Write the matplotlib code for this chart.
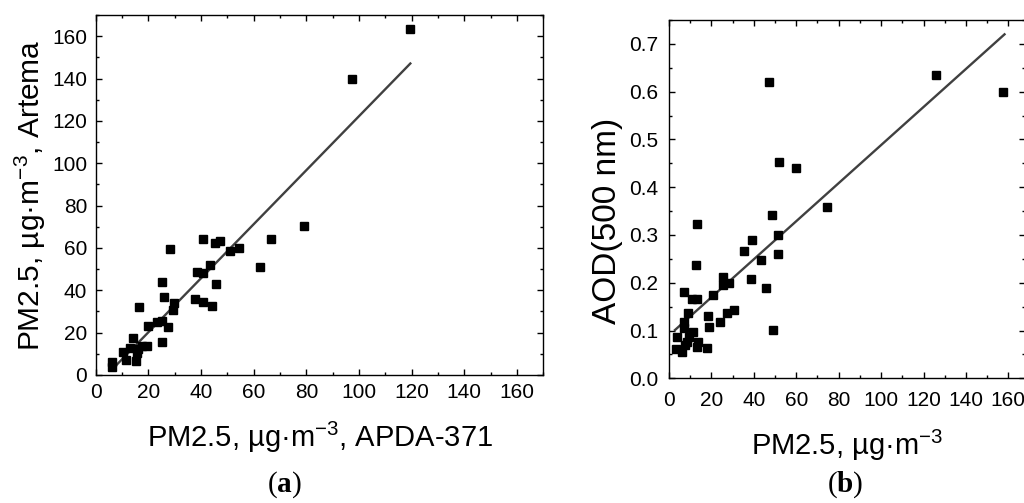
import matplotlib
matplotlib.use("Agg")
import matplotlib.pyplot as plt
from matplotlib.ticker import MultipleLocator, FormatStrFormatter

plt.rcParams["font.family"] = ["Liberation Sans", "DejaVu Sans"]
plt.rcParams["mathtext.fontset"] = "custom"
plt.rcParams["mathtext.rm"] = "Liberation Sans"
plt.rcParams["mathtext.it"] = "Liberation Sans:italic"
plt.rcParams["mathtext.bf"] = "Liberation Serif:bold"

# ------------------------------------------------------------
# (a) APDA-371 vs Artema

apda_x = [119.3, 97.5, 79.2, 66.4, 62.5, 54.4, 51.0, 47.3, 45.5, 40.7,
          43.3, 38.3, 40.6, 45.8, 37.7, 40.6, 44.0, 28.2, 25.3, 26.1,
          29.9, 29.5, 16.4, 23.1, 25.0, 19.9, 27.6, 25.3, 14.2, 17.5,
          19.6, 15.9, 13.0, 10.5, 11.5, 15.4, 6.3, 6.3, 15.6]
artema_y = [163.6, 139.6, 70.3, 64.4, 51.1, 59.9, 58.4, 63.4, 62.5, 64.0,
            52.1, 48.8, 48.0, 43.0, 35.7, 34.5, 32.6, 59.3, 43.7, 36.7,
            33.8, 30.7, 31.9, 24.9, 25.6, 23.1, 22.8, 15.7, 17.3, 13.8,
            13.8, 12.1, 12.6, 10.7, 7.1, 6.8, 6.3, 3.9, 10.2]

fit_a_x = [6.3, 119.5]
fit_a_y = [2.7, 147.1]

# ------------------------------------------------------------
# (b) PM2.5 vs AOD(500 nm)

pm_x = [157.7, 125.9, 47.2, 51.9, 59.7, 74.4, 48.4, 51.6, 39.3, 35.5,
        43.4, 51.6, 38.5, 45.8, 49.1, 13.1, 12.6, 25.3, 25.3, 28.1,
        20.9, 7.2, 11.0, 13.1, 9.1, 7.1, 7.1, 18.2, 18.9, 24.1,
        27.2, 30.7, 3.9, 3.3, 6.3, 8.3, 9.4, 11.5, 7.5, 13.8,
        13.4, 17.8]
aod_y = [0.599, 0.634, 0.620, 0.453, 0.441, 0.358, 0.341, 0.301, 0.290, 0.267,
         0.248, 0.261, 0.207, 0.188, 0.102, 0.323, 0.237, 0.213, 0.195, 0.199,
         0.175, 0.180, 0.165, 0.166, 0.136, 0.117, 0.105, 0.130, 0.107, 0.118,
         0.136, 0.142, 0.087, 0.061, 0.056, 0.077, 0.087, 0.096, 0.070, 0.077,
         0.066, 0.063]

fit_b_x = [2.8, 158.2]
fit_b_y = [0.101, 0.720]

# ------------------------------------------------------------

W, H = 1024, 503
fig = plt.figure(figsize=(W / 100, H / 100), dpi=100)

ax_a = fig.add_axes([95.7 / W, 1 - 375 / H, 447.6 / W, 360 / H])
ax_b = fig.add_axes([669 / W, 1 - 378.3 / H, 356.3 / W, 358.3 / H])


def style_axes(ax, xmaj, xmin, ymaj, ymin, xpad, ypad):
    ax.xaxis.set_major_locator(MultipleLocator(xmaj))
    ax.xaxis.set_minor_locator(MultipleLocator(xmin))
    ax.yaxis.set_major_locator(MultipleLocator(ymaj))
    ax.yaxis.set_minor_locator(MultipleLocator(ymin))
    ax.tick_params(which="both", direction="in", top=True, right=True,
                   width=1.0, colors="black")
    ax.tick_params(which="major", length=4)
    ax.tick_params(which="minor", length=2.3)
    ax.tick_params(axis="x", which="major", labelsize=15, pad=xpad)
    ax.tick_params(axis="y", which="major", labelsize=15, pad=ypad)
    for s in ax.spines.values():
        s.set_linewidth(1.0)


ax_a.plot(apda_x, artema_y, "s", color="black", ms=6, zorder=3)
ax_a.plot(fit_a_x, fit_a_y, "-", color="#404040", lw=1.7, zorder=2)
ax_a.set_xlim(0, 170)
ax_a.set_ylim(0, 170)
style_axes(ax_a, 20, 10, 20, 10, 5.5, 6)
ax_a.set_xlabel(r"PM2.5, µg·m$^{-3}$, APDA-371", fontsize=21, labelpad=13)
ax_a.set_ylabel(r"PM2.5, µg·m$^{-3}$, Artema", fontsize=21.5, labelpad=3)

ax_b.plot(pm_x, aod_y, "s", color="black", ms=6, zorder=3)
ax_b.plot(fit_b_x, fit_b_y, "-", color="#404040", lw=1.7, zorder=2)
ax_b.set_xlim(0, 168)
ax_b.set_ylim(0, 0.75)
style_axes(ax_b, 20, 10, 0.1, 0.05, 9, 8)
ax_b.yaxis.set_major_formatter(FormatStrFormatter("%.1f"))
ax_b.set_xlabel(r"PM2.5, µg·m$^{-3}$", fontsize=21, labelpad=13)
ax_b.set_ylabel("AOD(500 nm)", fontsize=24)
ax_b.yaxis.set_label_coords(-0.13, 0.44)

fig.text(284 / W, 1 - 485 / H, r"($\mathbf{a}$)", family="Liberation Serif",
         fontsize=21, ha="center", va="center")
fig.text(845 / W, 1 - 485 / H, r"($\mathbf{b}$)", family="Liberation Serif",
         fontsize=21, ha="center", va="center")

fig.savefig("out.png", dpi=100)
